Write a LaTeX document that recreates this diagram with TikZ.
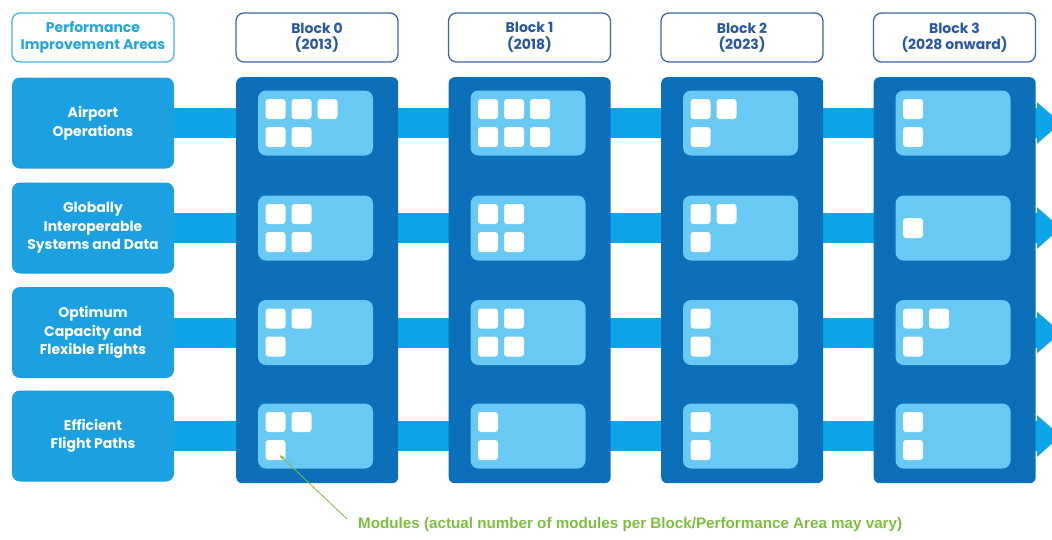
\documentclass[tikz,border=0pt]{standalone}
\usepackage{fontspec}
\setmainfont{Poppins}
\newfontfamily\notefont{Liberation Sans}
\usetikzlibrary{arrows.meta}
\definecolor{bandc}{RGB}{14,165,232}
\definecolor{areac}{RGB}{27,160,225}
\definecolor{colc}{RGB}{11,111,186}
\definecolor{panelc}{RGB}{104,201,243}
\definecolor{hdrline}{RGB}{62,102,172}
\definecolor{hdrtext}{RGB}{40,88,165}
\definecolor{cyantext}{RGB}{32,166,226}
\definecolor{notec}{RGB}{125,190,62}
\tikzset{
  hdrbox/.style={draw=hdrline, line width=1.3pt, fill=white, rounded corners=8pt,
    minimum width=162pt, minimum height=49pt, inner sep=0pt, align=center,
    font=\bfseries\fontsize{14}{16.5}\selectfont, text=hdrtext},
  areabox/.style={fill=areac, rounded corners=8pt, minimum width=162pt, minimum height=91pt,
    inner sep=0pt, align=center, text=white, font=\bfseries\fontsize{14}{18.5}\selectfont},
  band/.style={draw=bandc, line width=30pt, -{Triangle[length=24pt,width=40pt]}},
  colbox/.style={fill=colc, rounded corners=6pt, minimum width=162pt, minimum height=406pt,
    inner sep=0pt, anchor=north west},
  panel/.style={fill=panelc, rounded corners=8pt, minimum width=115pt, minimum height=65pt, inner sep=0pt},
  module/.style={fill=white, rounded corners=3pt, minimum size=20pt, inner sep=0pt},
  notetext/.style={text=notec, font=\notefont\bfseries\fontsize{15.2}{18}\selectfont, anchor=west, inner sep=0pt},
  leader/.style={draw=notec, line width=0.8pt, -{Stealth[length=6pt,width=4pt]}}
}
\begin{document}
\begin{tikzpicture}[x=1pt,y=-1pt]
\useasboundingbox (0,0) rectangle (1052,539);
\clip (0,0) rectangle (1052,539);
% headers
\node[hdrbox, draw=cyantext!85, text=cyantext] (hpa) at (93,37.5) {Performance\\Improvement Areas};
\node[hdrbox] (hb0) at (317,37.5) {Block 0\\(2013)};
\node[hdrbox] (hb1) at (529.5,37.5) {Block 1\\(2018)};
\node[hdrbox] (hb2) at (742,37.5) {Block 2\\(2023)};
\node[hdrbox] (hb3) at (954.5,37.5) {Block 3\\(2028 onward)};
% performance areas
\node[areabox] (a1) at (93,123) {Airport\\Operations};
\node[areabox] (a2) at (93,228) {Globally\\Interoperable\\Systems and Data};
\node[areabox] (a3) at (93,332.5) {Optimum\\Capacity and\\Flexible Flights};
\node[areabox] (a4) at (93,436) {Efficient\\Flight Paths};
% bands with arrow tips
\foreach \r/\y in {1/123,2/228,3/332.5,4/436}{
  \coordinate (e\r) at (1061,\y);
  \draw[band] (a\r.east) -- (e\r);
}
% block columns
\foreach \c/\x in {0/236,1/448.5,2/661,3/873.5}{
  \node[colbox] (col\c) at (\x,77) {};
}
% panels
\foreach \c/\x in {0/236,1/448.5,2/661,3/873.5}{
  \foreach \r/\y in {1/123,2/228,3/332.5,4/436}{
    \node[panel] (p\c\r) at (\x+79.5,\y) {};
  }
}
% modules: block/row/top count/bottom count
\foreach \c/\r/\t/\b in {0/1/3/2,0/2/2/2,0/3/2/1,0/4/2/1,
                          1/1/3/3,1/2/2/2,1/3/2/2,1/4/1/1,
                          2/1/2/1,2/2/2/1,2/3/1/1,2/4/1/1,
                          3/1/1/1,3/2/1/0,3/3/2/1,3/4/1/1}{
  \ifnum\b=0
    \node[module] (m\c\r t1) at ([xshift=-40pt]p\c\r.center) {};
  \else
    \foreach \i in {1,...,\t}{
      \node[module] (m\c\r t\i) at ([xshift={-40pt+26pt*(\i-1)},yshift=14pt]p\c\r.center) {};
    }
    \foreach \i in {1,...,\b}{
      \node[module] (m\c\r b\i) at ([xshift={-40pt+26pt*(\i-1)},yshift=-14pt]p\c\r.center) {};
    }
  \fi
}
% note
\node[notetext] (note) at (358,525) {Modules (actual number of modules per Block/Performance Area may vary)};
\coordinate (ls) at ([xshift=-11pt,yshift=6pt]note.west);
\draw[leader] (ls) -- ([xshift=4pt,yshift=-5pt]m04b1.center);
\end{tikzpicture}
\end{document}
